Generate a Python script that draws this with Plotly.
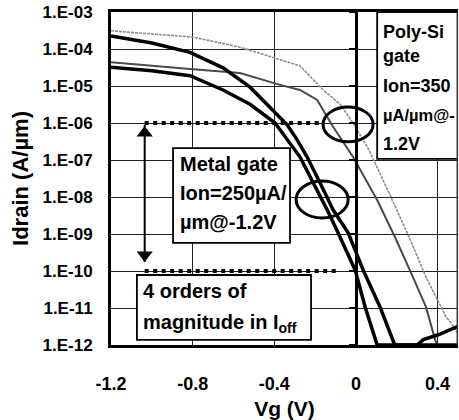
import plotly.graph_objects as go

# ---------------- data ----------------
# Metal gate, high |Vd| (thick black, upper)
metal_hi_vg = [-1.2, -1.0, -0.813, -0.651, -0.519, -0.406, -0.337, -0.288, -0.239, -0.166, -0.112, -0.038, 0.035, 0.118, 0.19, 0.30, 0.33, 0.40, 0.50]
metal_hi_id = [2.24e-4, 1.45e-4, 8.1e-5, 3.1e-5, 9.3e-6, 2.24e-6, 8.9e-7, 3.5e-7, 1.2e-7, 1.86e-8, 4.5e-9, 1.07e-9, 1.07e-10, 1.07e-11, 1.0e-12, 1.0e-12, 1.4e-12, 1.86e-12, 3.2e-12]
# Metal gate, low |Vd| (thick black, lower)
metal_lo_vg = [-1.2, -1.0, -0.813, -0.651, -0.519, -0.435, -0.396, -0.274, -0.19, -0.141, -0.087, -0.004, 0.045, 0.104, 0.5]
metal_lo_id = [3.2e-5, 2.6e-5, 1.9e-5, 7.8e-6, 3.2e-6, 1.4e-6, 1.0e-6, 1.2e-7, 1.55e-8, 4.5e-9, 1.07e-9, 1.07e-10, 1.07e-11, 1.0e-12, 1.0e-12]
# Poly-Si gate, high |Vd| (thin grey, upper)
poly_hi_vg = [-1.2, -1.0, -0.8, -0.568, -0.372, -0.323, -0.274, -0.161, -0.077, -0.014, 0.064, 0.162, 0.26, 0.343, 0.441, 0.48, 0.5]
poly_hi_id = [3.1e-4, 2.6e-4, 2.1e-4, 1.12e-4, 5.2e-5, 4.4e-5, 3.5e-5, 7.9e-6, 3.2e-6, 1.0e-6, 1.86e-7, 1.29e-8, 8.3e-10, 6.9e-11, 5.8e-12, 3.1e-12, 2.0e-12]
# Poly-Si gate, low |Vd| (dark grey, lower)
poly_lo_vg = [-1.2, -1.0, -0.813, -0.568, -0.372, -0.274, -0.19, -0.112, -0.014, 0.104, 0.191, 0.27, 0.343, 0.39, 0.40]
poly_lo_id = [4.4e-5, 3.5e-5, 2.9e-5, 2.24e-5, 1.07e-5, 7.8e-6, 4.2e-6, 7.9e-7, 1.2e-7, 8.3e-9, 8.3e-10, 8.9e-11, 1.07e-11, 1.26e-12, 1.0e-12]

# Ioff reference levels (dotted)
ioff_poly_vg = [-1.035, -0.161]
ioff_poly_id = [1e-6, 1e-6]
ioff_metal_vg = [-1.035, -0.083]
ioff_metal_id = [1e-10, 1e-10]

# double-headed arrow between the two Ioff levels
arrow_vg = [-1.035, -1.035]
arrow_id = [8.9e-7, 1.74e-10]
arrowhead_id = [5.4e-7, 2.7e-10]

x_ticks = [-1.2, -0.8, -0.4, 0, 0.4]
x_ticktext = ["-1.2", "-0.8", "-0.4", "0", "0.4"]
y_ticks = [1e-12, 1e-11, 1e-10, 1e-9, 1e-8, 1e-7, 1e-6, 1e-5, 1e-4, 1e-3]
y_ticktext = ["1.E-12", "1.E-11", "1.E-10", "1.E-09", "1.E-08", "1.E-07", "1.E-06", "1.E-05", "1.E-04", "1.E-03"]

FONT = "Liberation Sans, Arial, sans-serif"

fig = go.Figure()

fig.add_trace(go.Scatter(x=poly_hi_vg, y=poly_hi_id, mode="lines",
                         line=dict(color="#8c8c8c", width=1.6, dash="3px,1px"), showlegend=False))
fig.add_trace(go.Scatter(x=poly_lo_vg, y=poly_lo_id, mode="lines",
                         line=dict(color="#4a4a4a", width=2.0), showlegend=False))
fig.add_trace(go.Scatter(x=metal_hi_vg, y=metal_hi_id, mode="lines",
                         line=dict(color="black", width=3.5), showlegend=False))
fig.add_trace(go.Scatter(x=metal_lo_vg, y=metal_lo_id, mode="lines",
                         line=dict(color="black", width=3.5), showlegend=False))
fig.add_trace(go.Scatter(x=ioff_poly_vg, y=ioff_poly_id, mode="lines",
                         line=dict(color="black", width=4, dash="4px,4.5px"), showlegend=False))
fig.add_trace(go.Scatter(x=ioff_metal_vg, y=ioff_metal_id, mode="lines", yaxis="y2",
                         line=dict(color="black", width=4, dash="4px,4.5px"), showlegend=False))
fig.add_trace(go.Scatter(x=arrow_vg, y=arrow_id, mode="lines",
                         line=dict(color="black", width=2), showlegend=False))
fig.add_trace(go.Scatter(x=arrow_vg, y=arrowhead_id, mode="markers",
                         marker=dict(symbol=["triangle-up", "triangle-down"], size=14, color="black",
                                     line=dict(width=0)),
                         showlegend=False))

shapes = [
    # text boxes
    dict(type="rect", xref="x", yref="y", x0=-0.896, x1=-0.323, y0=5.75e-10, y1=2.09e-7,
         fillcolor="white", line=dict(color="black", width=1.8), layer="above"),
    dict(type="rect", xref="x", yref="y", x0=-1.073, x1=-0.22, y0=1.38e-12, y1=7.8e-11,
         fillcolor="white", line=dict(color="black", width=1.8), layer="above"),
    dict(type="rect", xref="x", yref="y", x0=0.104, x1=0.53, y0=1.07e-7, y1=1e-3,
         fillcolor="white", line=dict(color="black", width=1.8), layer="above"),
    # ellipses
    dict(type="circle", xref="x", yref="y", x0=-0.161, x1=0.084, y0=3.1e-7, y1=2.7e-6,
         line=dict(color="black", width=3), layer="above"),
    dict(type="circle", xref="x", yref="y", x0=-0.293, x1=-0.038, y0=2.7e-9, y1=2.7e-8,
         line=dict(color="black", width=3), layer="above"),
    # thin right border
    dict(type="line", xref="paper", yref="paper", x0=0.998, x1=0.998, y0=0, y1=1,
         line=dict(color="#333", width=1.5), layer="above"),
]

ann = []
def txt(x, y, s, size):
    ann.append(dict(x=x, y=y, xref="x", yref="y", text=s, showarrow=False,
                    xanchor="left", yanchor="middle",
                    font=dict(family=FONT, size=size, color="black", weight="bold")))

txt(-0.872, -7.12, "Metal gate", 20)
txt(-0.872, -7.88, "Ion=250µA/", 20)
txt(-0.872, -8.68, "µm@-1.2V", 20)
txt(-1.053, -10.55, "4 orders of", 20)
txt(-1.053, -11.42, "magnitude in I<sub>off</sub>", 20)
txt(0.124, -3.53, "Poly-Si", 18)
txt(0.124, -4.20, "gate", 18)
txt(0.124, -5.01, "Ion=350", 18)
txt(0.124, -5.78, "µA/µm@-", 16.5)
txt(0.124, -6.57, "1.2V", 18)

fig.update_layout(
    width=459, height=420,
    margin=dict(l=111, r=1, t=12, b=75),
    paper_bgcolor="white", plot_bgcolor="white",
    shapes=shapes, annotations=ann,
    font=dict(family=FONT, color="black"),
    xaxis=dict(range=[-1.2, 0.5], tickvals=x_ticks, ticktext=x_ticktext,
               showgrid=True, gridcolor="#222", gridwidth=1.2, zeroline=False,
               showline=True, linecolor="black", linewidth=3, mirror=True,
               ticks="", ticklabelstandoff=20,
               tickfont=dict(family=FONT, size=18, color="black", weight="bold"),
               title=dict(text="Vg (V)", standoff=10,
                          font=dict(family=FONT, size=21, color="black", weight="bold"))),
    yaxis=dict(type="log", range=[-12, -3], tickvals=y_ticks, ticktext=y_ticktext,
               showgrid=True, gridcolor="#222", gridwidth=1.2, zeroline=False,
               showline=True, linecolor="black", linewidth=3, mirror=False,
               ticks="", ticklabelstandoff=12,
               tickfont=dict(family=FONT, size=17, color="black", weight="bold"),
               title=dict(text="Idrain (A/µm)", standoff=8,
                          font=dict(family=FONT, size=22, color="black", weight="bold"))),
    yaxis2=dict(type="log", range=[-12, -3], overlaying="y", anchor="free",
                position=1.2 / 1.7, side="left", showgrid=False, zeroline=False,
                showline=True, linecolor="black", linewidth=3,
                ticks="outside", ticklen=6, tickwidth=2, tickcolor="black",
                tickvals=y_ticks, showticklabels=False),
)

fig.write_html("out.html")
